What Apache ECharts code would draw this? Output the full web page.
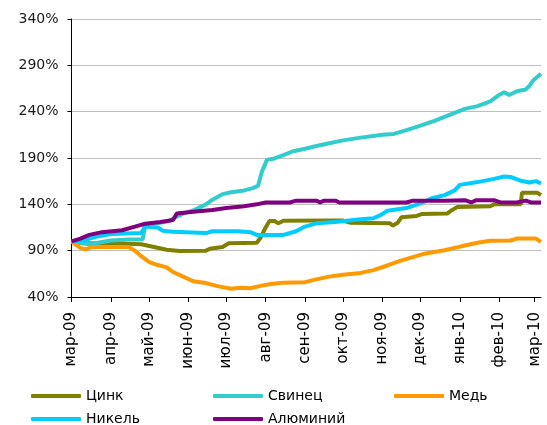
<!DOCTYPE html>
<html>
<head>
<meta charset="utf-8">
<script src="https://cdn.jsdelivr.net/npm/echarts@6/dist/echarts.min.js"></script>
<style>
  html, body { margin: 0; padding: 0; background: #fff; }
  #chart { width: 547px; height: 425px; }
</style>
</head>
<body>
<div id="chart"></div>
<script>
// Metal price indices, % of the 1 March 2009 level
const seriesNames = ['Цинк', 'Свинец', 'Медь', 'Никель', 'Алюминий'];
const seriesColors = ['#808000', '#33CCCC', '#FF9900', '#00CCFF', '#800080'];
const monthNames = ['янв', 'фев', 'мар', 'апр', 'май', 'июн', 'июл', 'авг', 'сен', 'окт', 'ноя', 'дек'];
const yTicks = [40, 90, 140, 190, 240, 290, 340];
const firstDay = '2009-03-01';
const lastDay = '2010-03-06';

const zinc = [
  ['2009-03-01', 100], ['2009-03-10', 98], ['2009-04-01', 98], ['2009-04-25', 97],
  ['2009-05-05', 94], ['2009-05-15', 91], ['2009-05-25', 89.6], ['2009-06-15', 90],
  ['2009-06-18', 92], ['2009-06-28', 94], ['2009-07-03', 98], ['2009-07-25', 98.5],
  ['2009-07-28', 104], ['2009-08-01', 115], ['2009-08-04', 122], ['2009-08-08', 122],
  ['2009-08-11', 119.5], ['2009-08-15', 122.3], ['2009-09-20', 122.5], ['2009-10-01', 122.5],
  ['2009-10-07', 120], ['2009-11-07', 119.5], ['2009-11-09', 117], ['2009-11-13', 120],
  ['2009-11-16', 126], ['2009-11-28', 127.5], ['2009-12-02', 129.5], ['2009-12-22', 130],
  ['2009-12-26', 134], ['2009-12-30', 137], ['2010-01-25', 138], ['2010-01-28', 140],
  ['2010-02-18', 140], ['2010-02-19', 152.6], ['2010-03-03', 152.6], ['2010-03-06', 150]
];
const lead = [
  ['2009-03-01', 100], ['2009-03-10', 98], ['2009-03-15', 97], ['2009-04-01', 101],
  ['2009-04-15', 102], ['2009-04-26', 102], ['2009-04-28', 116], ['2009-05-03', 119],
  ['2009-05-10', 120], ['2009-05-17', 122], ['2009-05-22', 126], ['2009-05-28', 130],
  ['2009-06-06', 134], ['2009-06-15', 140], ['2009-06-20', 145], ['2009-06-28', 151],
  ['2009-07-05', 153], ['2009-07-15', 155], ['2009-07-22', 157.5], ['2009-07-26', 160],
  ['2009-07-29', 175], ['2009-08-02', 188], ['2009-08-08', 189.5], ['2009-08-15', 193],
  ['2009-08-22', 197], ['2009-09-01', 200], ['2009-09-10', 203], ['2009-09-20', 206],
  ['2009-10-01', 209], ['2009-10-15', 212], ['2009-11-01', 215], ['2009-11-10', 216],
  ['2009-11-20', 220], ['2009-12-01', 225], ['2009-12-12', 230], ['2009-12-25', 237],
  ['2010-01-05', 243], ['2010-01-15', 246], ['2010-01-25', 251], ['2010-02-01', 258],
  ['2010-02-05', 261], ['2010-02-09', 258], ['2010-02-15', 262], ['2010-02-22', 264],
  ['2010-02-25', 268], ['2010-02-28', 274], ['2010-03-06', 281]
];
const copper = [
  ['2009-03-01', 100], ['2009-03-08', 93], ['2009-03-12', 91.5], ['2009-03-18', 94],
  ['2009-04-15', 94], ['2009-04-20', 90], ['2009-04-25', 84], ['2009-05-01', 78],
  ['2009-05-08', 74.5], ['2009-05-15', 72], ['2009-05-20', 67], ['2009-05-28', 62],
  ['2009-06-05', 57], ['2009-06-15', 55], ['2009-06-25', 51.5], ['2009-07-05', 49],
  ['2009-07-12', 50], ['2009-07-20', 49.4], ['2009-07-28', 52], ['2009-08-05', 54],
  ['2009-08-15', 55.5], ['2009-09-01', 56], ['2009-09-10', 59], ['2009-09-20', 62],
  ['2009-10-01', 64], ['2009-10-15', 66], ['2009-10-25', 69], ['2009-11-05', 74],
  ['2009-11-15', 79], ['2009-11-25', 83], ['2009-12-05', 87], ['2009-12-20', 90.5],
  ['2009-12-28', 93], ['2010-01-05', 95.5], ['2010-01-15', 98.5], ['2010-01-25', 100.8],
  ['2010-02-10', 101], ['2010-02-15', 103], ['2010-03-02', 103], ['2010-03-06', 99.5]
];
const nickel = [
  ['2009-03-01', 100], ['2009-03-10', 101], ['2009-03-20', 105], ['2009-04-01', 108],
  ['2009-04-25', 109], ['2009-04-28', 116], ['2009-05-08', 115], ['2009-05-12', 111.5],
  ['2009-05-20', 110.5], ['2009-06-15', 109], ['2009-06-20', 111], ['2009-07-10', 111],
  ['2009-07-20', 110], ['2009-07-25', 107], ['2009-08-15', 107], ['2009-08-25', 111],
  ['2009-09-01', 116], ['2009-09-10', 119.5], ['2009-09-25', 121], ['2009-10-15', 124],
  ['2009-10-25', 125], ['2009-10-30', 128], ['2009-11-05', 133], ['2009-11-20', 136],
  ['2009-12-01', 141], ['2009-12-10', 146.5], ['2009-12-20', 150], ['2009-12-28', 155],
  ['2010-01-01', 161], ['2010-01-15', 164], ['2010-01-28', 167.5], ['2010-02-05', 170],
  ['2010-02-10', 169.5], ['2010-02-18', 165.5], ['2010-02-25', 163.5], ['2010-03-02', 165],
  ['2010-03-06', 162.5]
];
const aluminium = [
  ['2009-03-01', 100], ['2009-03-08', 103], ['2009-03-15', 107], ['2009-03-25', 110],
  ['2009-04-10', 112], ['2009-04-20', 116], ['2009-04-28', 119], ['2009-05-10', 121],
  ['2009-05-20', 123], ['2009-05-23', 130], ['2009-06-05', 132], ['2009-06-20', 134],
  ['2009-07-01', 136], ['2009-07-15', 138], ['2009-07-25', 140], ['2009-08-01', 142],
  ['2009-08-20', 142], ['2009-08-25', 144], ['2009-09-10', 144], ['2009-09-13', 142],
  ['2009-09-16', 144], ['2009-09-25', 144], ['2009-09-28', 142], ['2009-11-20', 142],
  ['2009-11-25', 144], ['2009-12-20', 144], ['2010-01-05', 144.5], ['2010-01-10', 142],
  ['2010-01-14', 144.5], ['2010-01-28', 144.5], ['2010-02-02', 142], ['2010-02-15', 142],
  ['2010-02-22', 144], ['2010-02-26', 142], ['2010-03-06', 142]
];
const seriesData = [zinc, lead, copper, nickel, aluminium];

// One category per calendar day
function dayList(from, to) {
  const out = [];
  const d = new Date(from + 'T00:00:00Z');
  const end = new Date(to + 'T00:00:00Z');
  while (d <= end) {
    out.push(d.toISOString().slice(0, 10));
    d.setUTCDate(d.getUTCDate() + 1);
  }
  return out;
}
const days = dayList(firstDay, lastDay);
const isMonthStart = (i, v) => v.slice(8, 10) === '01';

const FONT = '"DejaVu Sans", Verdana, sans-serif';

// Legend: fixed columns, one legend block per entry
const legendSlots = [[31, 389], [213, 389], [394, 389], [31, 412], [213, 412]];
const legends = seriesNames.map((name, i) => ({
  data: [name],
  left: legendSlots[i][0],
  top: legendSlots[i][1],
  padding: 0,
  icon: 'roundRect',
  itemWidth: 50,
  itemHeight: 4,
  textStyle: { fontFamily: FONT, fontSize: 14, color: '#000' }
}));

const chart = echarts.init(document.getElementById('chart'), null, { renderer: 'canvas' });
chart.setOption({
  animation: false,
  backgroundColor: '#fff',
  grid: { left: 71.5, right: 6, top: 19, bottom: 128, containLabel: false },
  legend: legends,
  xAxis: {
    type: 'category',
    data: days,
    boundaryGap: false,
    axisLine: { lineStyle: { color: '#000', width: 1 } },
    axisTick: { interval: isMonthStart, length: 5, lineStyle: { color: '#000' } },
    axisLabel: {
      interval: isMonthStart,
      rotate: 90,
      margin: 15,
      fontFamily: FONT,
      fontSize: 15,
      color: '#000',
      formatter: v => monthNames[+v.slice(5, 7) - 1] + '-' + v.slice(2, 4)
    },
    splitLine: { show: false }
  },
  yAxis: {
    type: 'value',
    min: yTicks[0],
    max: yTicks[yTicks.length - 1],
    interval: 50,
    axisLine: { show: true, lineStyle: { color: '#000', width: 1 } },
    axisTick: { show: true, length: 4, lineStyle: { color: '#000' } },
    axisLabel: {
      margin: 13,
      fontFamily: FONT,
      fontSize: 14,
      color: '#1a1a1a',
      formatter: '{value}%'
    },
    splitLine: { lineStyle: { color: '#bfbfbf', width: 1 } }
  },
  series: seriesNames.map((name, i) => ({
    name: name,
    type: 'line',
    data: seriesData[i],
    showSymbol: false,
    symbol: 'none',
    color: seriesColors[i],
    lineStyle: { width: 4, color: seriesColors[i] },
    itemStyle: { color: seriesColors[i] }
  }))
});
</script>
</body>
</html>
